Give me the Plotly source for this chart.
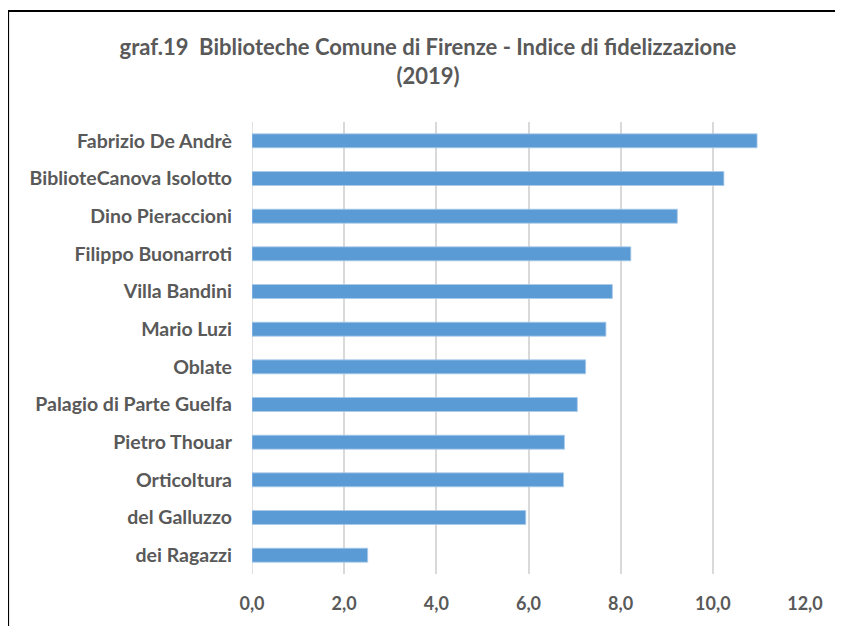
import plotly.graph_objects as go

categories = ["Fabrizio De Andrè", "BiblioteCanova Isolotto", "Dino Pieraccioni",
              "Filippo Buonarroti", "Villa Bandini", "Mario Luzi", "Oblate",
              "Palagio di Parte Guelfa", "Pietro Thouar", "Orticoltura",
              "del Galluzzo", "dei Ragazzi"]
values = [10.96, 10.24, 9.23, 8.22, 7.82, 7.68, 7.24, 7.06, 6.78, 6.76, 5.94, 2.51]
tick_vals = [0, 2, 4, 6, 8, 10, 12]

OFF = 8  # page body margin
W, H = 843 - OFF, 626 - OFF
L, R, T, B = 252 - OFF, 38, 122 - OFF, 52
pw, ph = W - L - R, H - T - B

def px(x):
    return (x - OFF - L) / pw

def py(y):
    return (H - B - (y - OFF)) / ph

font = "Lato"
grey = "#595959"

fig = go.Figure(go.Bar(
    x=values[::-1], y=categories[::-1], orientation="h",
    marker=dict(color="#5b9bd5", line=dict(color="#a9c9ea", width=0.8)),
    width=0.37,
))

fig.update_layout(
    width=W, height=H,
    margin=dict(l=L, r=R, t=T, b=B),
    paper_bgcolor="white", plot_bgcolor="white",
    separators=",.",
    showlegend=False,
    title=dict(text="<b>graf.19  Biblioteche Comune di Firenze - Indice di fidelizzazione<br>(2019)</b>",
               x=(428 - OFF) / W, xanchor="center", y=1 - (55 - OFF) / H, yanchor="top",
               font=dict(family=font, size=22, color=grey)),
    font=dict(family=font, color=grey),
    xaxis=dict(range=[0, 12], tickvals=tick_vals, tickformat=".1f",
               showgrid=True, gridcolor="#d9d9d9", gridwidth=1.5,
               zeroline=False, showline=False, ticks="",
               tickfont=dict(family=font, size=18, color=grey, weight="bold"),
               ticklabelstandoff=17),
    yaxis=dict(showgrid=False, zeroline=False, showline=False, ticks="",
               tickfont=dict(family=font, size=19.5, color=grey, weight="bold"),
               ticklabelstandoff=19),
    shapes=[
        dict(type="line", xref="paper", yref="paper",
             x0=px(8), x1=px(8), y0=py(10), y1=py(640),
             line=dict(color="black", width=2.2)),
        dict(type="line", xref="paper", yref="paper",
             x0=px(7), x1=px(860), y0=py(11), y1=py(11),
             line=dict(color="black", width=2.2)),
        dict(type="line", xref="x", yref="paper",
             x0=0, x1=0, y0=0, y1=1, layer="below",
             line=dict(color="#d9d9d9", width=1.5)),
    ],
)

fig.write_html("out.html")
